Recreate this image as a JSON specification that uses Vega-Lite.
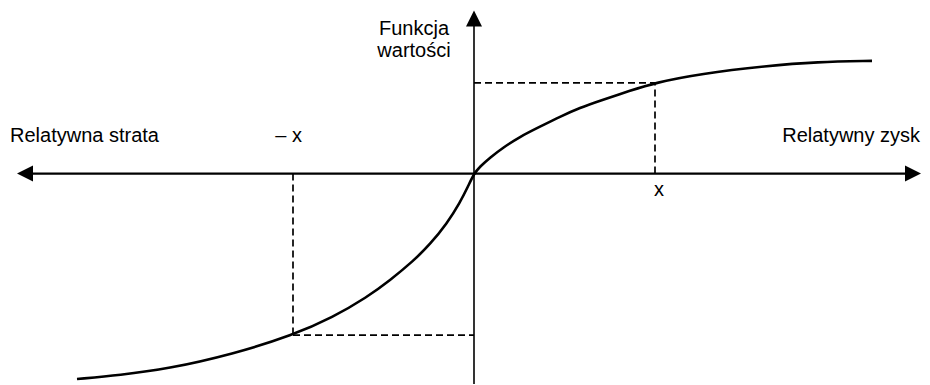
{
  "$schema": "https://vega.github.io/schema/vega-lite/v6.json",
  "width": 930,
  "height": 385,
  "padding": 0,
  "autosize": {"type": "fit", "contains": "padding"},
  "background": "white",
  "config": {"view": {"stroke": null}},
  "datasets": {
    "curve": [
      {"x": -397, "y": -206}, {"x": -354, "y": -202}, {"x": -307, "y": -196},
      {"x": -241, "y": -181}, {"x": -181, "y": -162}, {"x": -141, "y": -144},
      {"x": -107, "y": -124}, {"x": -84, "y": -107}, {"x": -61, "y": -88},
      {"x": -44, "y": -71}, {"x": -27, "y": -50}, {"x": -14, "y": -29},
      {"x": -6, "y": -13}, {"x": 0, "y": 0}, {"x": 6, "y": 7},
      {"x": 16, "y": 16}, {"x": 29, "y": 26}, {"x": 46, "y": 37},
      {"x": 66, "y": 47}, {"x": 86, "y": 57}, {"x": 106, "y": 66},
      {"x": 126, "y": 73}, {"x": 156, "y": 83}, {"x": 181, "y": 91},
      {"x": 226, "y": 100}, {"x": 293, "y": 108}, {"x": 343, "y": 112},
      {"x": 398, "y": 113}
    ],
    "axes": [
      {"x": -442, "x2": 431, "y": 0, "y2": 0, "w": 2.2},
      {"x": 0, "x2": 0, "y": 148, "y2": -211, "w": 1.6}
    ],
    "guides": [
      {"x": 181, "x2": 181, "y": 0, "y2": 91},
      {"x": 0, "x2": 181, "y": 91, "y2": 91},
      {"x": -181, "x2": -181, "y": 0, "y2": -162},
      {"x": -181, "x2": 0, "y": -162, "y2": -162}
    ],
    "arrows": [
      {"x": -449, "y": 0, "dir": "left"},
      {"x": 439, "y": 0, "dir": "right"},
      {"x": 0, "y": 155.5, "dir": "up"}
    ],
    "labelsLeft": [
      {"x": -464, "y": 32, "text": "Relatywna strata"}
    ],
    "labelsRight": [
      {"x": -172, "y": 32, "text": "– x"},
      {"x": 446, "y": 32, "text": "Relatywny zysk"}
    ],
    "labelsCenter": [
      {"x": 185, "y": -23, "text": "x"},
      {"x": -60, "y": 139, "text": "Funkcja"},
      {"x": -60, "y": 117, "text": "wartości"}
    ]
  },
  "layer": [
    {
      "data": {"name": "guides"},
      "mark": {"type": "rule", "color": "black", "strokeWidth": 1.7, "strokeDash": [7, 4]},
      "encoding": {
        "x": {"field": "x", "type": "quantitative", "scale": {"domain": [-474, 456], "nice": false, "zero": false}, "axis": null},
        "x2": {"field": "x2"},
        "y": {"field": "y", "type": "quantitative", "scale": {"domain": [-211, 174], "nice": false, "zero": false}, "axis": null},
        "y2": {"field": "y2"}
      }
    },
    {
      "data": {"name": "axes"},
      "mark": {"type": "rule", "color": "black"},
      "encoding": {
        "x": {"field": "x", "type": "quantitative", "scale": {"domain": [-474, 456], "nice": false, "zero": false}, "axis": null},
        "x2": {"field": "x2"},
        "y": {"field": "y", "type": "quantitative", "scale": {"domain": [-211, 174], "nice": false, "zero": false}, "axis": null},
        "y2": {"field": "y2"},
        "strokeWidth": {"field": "w", "type": "quantitative", "scale": null}
      }
    },
    {
      "data": {"name": "curve"},
      "mark": {"type": "line", "color": "black", "strokeWidth": 2.6, "interpolate": "basis"},
      "encoding": {
        "x": {"field": "x", "type": "quantitative", "scale": {"domain": [-474, 456], "nice": false, "zero": false}, "axis": null},
        "y": {"field": "y", "type": "quantitative", "scale": {"domain": [-211, 174], "nice": false, "zero": false}, "axis": null}
      }
    },
    {
      "data": {"name": "arrows"},
      "mark": {"type": "point", "filled": true, "color": "black", "opacity": 1, "size": 256, "strokeWidth": 0},
      "encoding": {
        "x": {"field": "x", "type": "quantitative", "scale": {"domain": [-474, 456], "nice": false, "zero": false}, "axis": null},
        "y": {"field": "y", "type": "quantitative", "scale": {"domain": [-211, 174], "nice": false, "zero": false}, "axis": null},
        "shape": {
          "field": "dir", "type": "nominal", "legend": null,
          "scale": {"domain": ["left", "right", "up"], "range": ["M-1,0L1,-1L1,1Z", "M1,0L-1,-1L-1,1Z", "M0,-1L-1,1L1,1Z"]}
        }
      }
    },
    {
      "data": {"name": "labelsLeft"},
      "mark": {"type": "text", "font": "Liberation Sans", "fontSize": 20, "color": "black", "baseline": "alphabetic", "align": "left"},
      "encoding": {
        "x": {"field": "x", "type": "quantitative", "scale": {"domain": [-474, 456], "nice": false, "zero": false}, "axis": null},
        "y": {"field": "y", "type": "quantitative", "scale": {"domain": [-211, 174], "nice": false, "zero": false}, "axis": null},
        "text": {"field": "text"}
      }
    },
    {
      "data": {"name": "labelsRight"},
      "mark": {"type": "text", "font": "Liberation Sans", "fontSize": 20, "color": "black", "baseline": "alphabetic", "align": "right"},
      "encoding": {
        "x": {"field": "x", "type": "quantitative", "scale": {"domain": [-474, 456], "nice": false, "zero": false}, "axis": null},
        "y": {"field": "y", "type": "quantitative", "scale": {"domain": [-211, 174], "nice": false, "zero": false}, "axis": null},
        "text": {"field": "text"}
      }
    },
    {
      "data": {"name": "labelsCenter"},
      "mark": {"type": "text", "font": "Liberation Sans", "fontSize": 20, "color": "black", "baseline": "alphabetic", "align": "center"},
      "encoding": {
        "x": {"field": "x", "type": "quantitative", "scale": {"domain": [-474, 456], "nice": false, "zero": false}, "axis": null},
        "y": {"field": "y", "type": "quantitative", "scale": {"domain": [-211, 174], "nice": false, "zero": false}, "axis": null},
        "text": {"field": "text"}
      }
    }
  ]
}
